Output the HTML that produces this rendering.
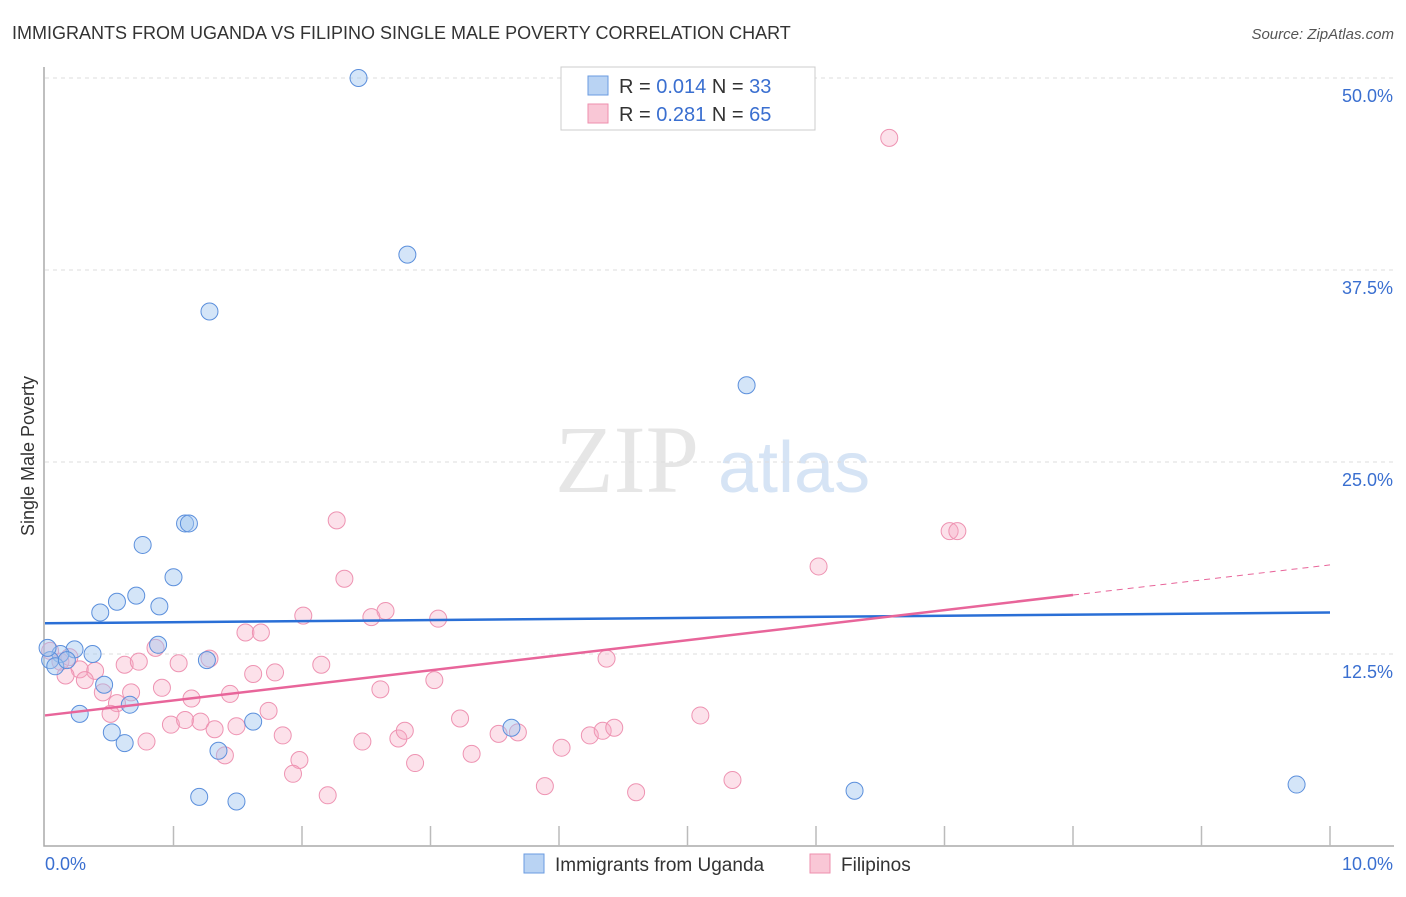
<!DOCTYPE html>
<html><head><meta charset="utf-8"><style>
body{margin:0;background:#fff;font-family:"Liberation Sans",sans-serif;}
</style></head><body>
<svg id="c" width="1406" height="892" xmlns="http://www.w3.org/2000/svg">
<text x="12" y="39" font-size="18" fill="#333">IMMIGRANTS FROM UGANDA VS FILIPINO SINGLE MALE POVERTY CORRELATION CHART</text>
<text x="1394" y="39" font-size="15" fill="#555" text-anchor="end" font-style="italic">Source: ZipAtlas.com</text>
<text x="555" y="492" font-size="96" fill="#e6e6e6" font-family="Liberation Serif,serif">ZIP</text>
<text x="718" y="492" font-size="72" fill="#d6e4f5">atlas</text>
<text transform="translate(34,456) rotate(-90)" font-size="18" fill="#333" text-anchor="middle">Single Male Poverty</text>
<g id="grid"></g><g id="pts"></g><g id="lines"></g>
<g>
<rect x="561" y="67" width="254" height="63" fill="#fff" stroke="#ccc"/>
<rect x="588" y="76" width="20" height="19" fill="#b9d3f3" stroke="#6a9be0"/>
<rect x="588" y="104" width="20" height="19" fill="#f9c7d6" stroke="#ee8fae"/>
<text x="619" y="93" font-size="20" fill="#333">R = <tspan fill="#3a6fd0">0.014</tspan>    N = <tspan fill="#3a6fd0">33</tspan></text>
<text x="619" y="121" font-size="20" fill="#333">R =  <tspan fill="#3a6fd0">0.281</tspan>    N = <tspan fill="#3a6fd0">65</tspan></text>
</g>
<g>
<rect x="524" y="854" width="20" height="19" fill="#b9d3f3" stroke="#6a9be0"/>
<text x="555" y="871" font-size="19" fill="#333">Immigrants from Uganda</text>
<rect x="810" y="854" width="20" height="19" fill="#f9c7d6" stroke="#ee8fae"/>
<text x="841" y="871" font-size="19" fill="#333">Filipinos</text>
</g>
</svg>
<script>
const yTicks=[12.5,25,37.5,50];
const xTickLabels=["0.0%","10.0%"];
const ugandaX=[2.44,2.82,1.28,5.46,1.09,1.12,0.76,1.0,0.71,0.56,0.89,0.43,0.88,0.23,0.37,0.12,0.04,0.08,0.17,0.46,0.66,0.27,0.52,0.62,1.62,1.35,1.26,3.63,1.2,1.49,6.3,9.74,0.02];
const ugandaY=[50,38.5,34.8,30.0,21.0,21.0,19.6,17.5,16.3,15.9,15.6,15.2,13.1,12.8,12.5,12.5,12.1,11.7,12.1,10.5,9.2,8.6,7.4,6.7,8.1,6.2,12.1,7.7,3.2,2.9,3.6,4.0,12.9];
const filX=[6.57,2.27,7.04,7.1,6.02,2.33,2.65,2.01,2.54,3.06,1.56,1.68,1.28,0.86,0.62,0.73,1.04,0.39,0.27,0.16,2.15,1.79,1.62,4.37,3.03,2.61,0.67,0.91,1.44,1.14,0.45,0.56,0.51,1.74,3.23,5.1,0.98,1.09,1.21,1.32,1.49,1.85,2.47,2.75,2.8,3.53,3.68,4.24,4.34,4.43,0.79,1.4,1.98,2.88,3.32,4.02,1.93,3.89,5.35,4.6,2.2,0.12,0.04,0.19,0.31];
const filY=[46.1,21.2,20.5,20.5,18.2,17.4,15.3,15.0,14.9,14.8,13.9,13.9,12.2,12.9,11.8,12.0,11.9,11.4,11.5,11.1,11.8,11.3,11.2,12.2,10.8,10.2,10.0,10.3,9.9,9.6,10.0,9.3,8.6,8.8,8.3,8.5,7.9,8.2,8.1,7.6,7.8,7.2,6.8,7.0,7.5,7.3,7.4,7.2,7.5,7.7,6.8,5.9,5.6,5.4,6.0,6.4,4.7,3.9,4.3,3.5,3.3,12.0,12.7,12.3,10.8];
const trendU=[14.5,15.2];
const trendF=[8.5,18.3];
const X0=45,X1=1330,Y0=846,PY=15.36;
const xs=v=>X0+v/10*(X1-X0), ys=v=>Y0-v*PY;
const NS="http://www.w3.org/2000/svg";
function mk(t,a,p){const e=document.createElementNS(NS,t);for(const k in a)e.setAttribute(k,a[k]);p.appendChild(e);return e;}
const g=document.getElementById('grid');
yTicks.forEach(t=>{
 const l=mk('line',{x1:45,x2:1394,y1:ys(t),y2:ys(t),stroke:'#ddd','stroke-dasharray':'4,4'},g);
 
 
 const tx=mk('text',{x:1393,y:ys(t)+24,'font-size':18,fill:'#3a6fd0','text-anchor':'end'},g);
 tx.textContent=t.toFixed(1)+'%';
 
 
});
const ax=mk('path',{d:'M44,67V846H1394',fill:'none',stroke:'#aaa','stroke-width':1.5},g);


for(let i=1;i<=10;i++){const x=X0+i*(X1-X0)/10;const t=mk('line',{x1:x,x2:x,y1:826,y2:846,stroke:'#bbb','stroke-width':1.5},g);
 
 }
xTickLabels.forEach((s,i)=>{const t=mk('text',{x:i?1393:45,y:870,'font-size':18,fill:'#3a6fd0','text-anchor':i?'end':'start'},g);t.textContent=s;
 
 });
const p=document.getElementById('pts');
filX.forEach((v,i)=>{const c=mk('circle',{cx:xs(v),cy:ys(filY[i]),r:8.5,fill:'rgba(246,170,195,0.35)',stroke:'#ee93b2','stroke-width':1},p);
 
 });
ugandaX.forEach((v,i)=>{const c=mk('circle',{cx:xs(v),cy:ys(ugandaY[i]),r:8.5,fill:'rgba(160,197,240,0.45)',stroke:'#5b8fdc','stroke-width':1},p);
 
 });
const L=document.getElementById('lines');
let a=mk('line',{x1:xs(0),y1:ys(trendU[0]),x2:xs(10),y2:ys(trendU[1]),stroke:'#2a6fd6','stroke-width':2.5},L);


const fm=trendF[0]+(trendF[1]-trendF[0])*0.8;
a=mk('line',{x1:xs(0),y1:ys(trendF[0]),x2:xs(8),y2:ys(fm),stroke:'#e8659a','stroke-width':2.5},L);


a=mk('line',{x1:xs(8),y1:ys(fm),x2:xs(10),y2:ys(trendF[1]),stroke:'#e8659a','stroke-width':1,'stroke-dasharray':'6,5'},L);


</script>
</body></html>
